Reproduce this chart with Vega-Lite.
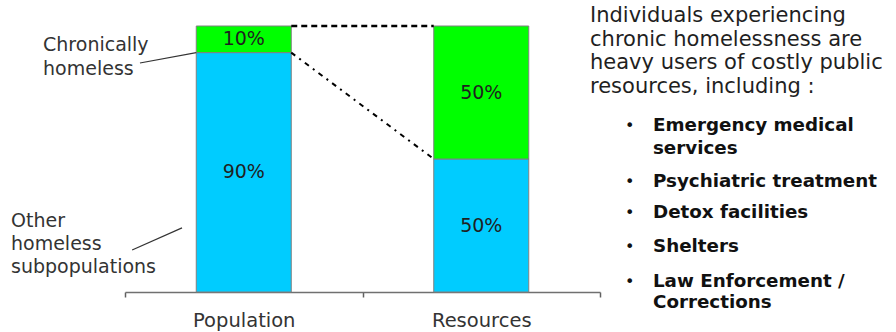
{
  "$schema": "https://vega.github.io/schema/vega-lite/v6.json",
  "width": 475,
  "height": 266,
  "autosize": {"type": "none"},
  "padding": {"left": 125, "top": 26, "right": 296, "bottom": 40},
  "config": {
    "view": {"stroke": null},
    "font": "DejaVu Sans",
    "text": {"font": "DejaVu Sans"}
  },
  "encoding": {
    "x": {
      "type": "nominal",
      "scale": {"domain": ["Population", "Resources"], "paddingInner": 0, "paddingOuter": 0},
      "axis": {
        "title": null,
        "grid": false,
        "ticks": true,
        "labelAngle": 0,
        "domainColor": "#707070",
        "domainWidth": 1.5,
        "tickColor": "#606060",
        "tickWidth": 1.5,
        "tickSize": 5,
        "tickBand": "extent",
        "labelFont": "DejaVu Sans",
        "labelFontSize": 19.5,
        "labelColor": "#333333",
        "labelPadding": 14
      }
    },
    "y": {
      "type": "quantitative",
      "scale": {"domain": [0, 1], "nice": false, "zero": true},
      "axis": null
    }
  },
  "layer": [
    {
      "data": {
        "values": [
          {"group": "Population", "segment": "Other homeless subpopulations", "share": 0.9},
          {"group": "Population", "segment": "Chronically homeless", "share": 0.1},
          {"group": "Resources", "segment": "Other homeless subpopulations", "share": 0.5},
          {"group": "Resources", "segment": "Chronically homeless", "share": 0.5}
        ]
      },
      "transform": [
        {"stack": "share", "groupby": ["group"], "sort": [{"field": "segment", "order": "descending"}], "as": ["lower", "upper"]},
        {"calculate": "(datum.lower + datum.upper) / 2", "as": "middle"}
      ],
      "layer": [
        {
          "mark": {"type": "bar", "width": {"band": 0.4}, "stroke": "#808080", "strokeWidth": 1},
          "encoding": {
            "x": {"field": "group", "type": "nominal"},
            "y": {"field": "lower", "type": "quantitative"},
            "y2": {"field": "upper"},
            "color": {
              "field": "segment",
              "type": "nominal",
              "scale": {"domain": ["Other homeless subpopulations", "Chronically homeless"], "range": ["#00CCFF", "#00FF00"]},
              "legend": null
            }
          }
        },
        {
          "mark": {"type": "text", "fontSize": 19, "color": "#1f1f1f", "baseline": "middle", "align": "center"},
          "encoding": {
            "x": {"field": "group", "type": "nominal"},
            "y": {"field": "middle", "type": "quantitative"},
            "text": {"field": "share", "type": "quantitative", "format": ".0%"}
          }
        }
      ]
    },
    {
      "data": {
        "values": [
          {"from": "Population", "to": "Resources", "fromLevel": 1, "toLevel": 1}
        ]
      },
      "mark": {"type": "rule", "color": "#000000", "strokeWidth": 2.5, "strokeDash": [6, 4]},
      "encoding": {
        "x": {"field": "from", "type": "nominal", "bandPosition": 0.7},
        "x2": {"field": "to", "bandPosition": 0.3},
        "y": {"field": "fromLevel", "type": "quantitative"},
        "y2": {"field": "toLevel"}
      }
    },
    {
      "data": {
        "values": [
          {"from": "Population", "to": "Resources", "fromLevel": 0.9, "toLevel": 0.5}
        ]
      },
      "mark": {"type": "rule", "color": "#000000", "strokeWidth": 2, "strokeDash": [5, 5, 2, 5]},
      "encoding": {
        "x": {"field": "from", "type": "nominal", "bandPosition": 0.7},
        "x2": {"field": "to", "bandPosition": 0.3},
        "y": {"field": "fromLevel", "type": "quantitative"},
        "y2": {"field": "toLevel"}
      }
    },
    {
      "data": {"values": [{}]},
      "layer": [
        {
          "mark": {"type": "rule", "color": "#333333", "strokeWidth": 1.2},
          "encoding": {
            "x": {"datum": "Population", "bandPosition": 0.063},
            "x2": {"datum": "Population", "bandPosition": 0.3},
            "y": {"datum": 0.861},
            "y2": {"datum": 0.9}
          }
        },
        {
          "mark": {"type": "rule", "color": "#333333", "strokeWidth": 1.2},
          "encoding": {
            "x": {"datum": "Population", "bandPosition": 0.03},
            "x2": {"datum": "Population", "bandPosition": 0.24},
            "y": {"datum": 0.158},
            "y2": {"datum": 0.241}
          }
        },
        {
          "mark": {"type": "text", "align": "left", "baseline": "alphabetic", "fontSize": 19, "lineHeight": 24, "color": "#333333"},
          "encoding": {
            "x": {"datum": "Population", "bandPosition": -0.345},
            "y": {"datum": 0.906},
            "text": {"value": ["Chronically", "homeless"]}
          }
        },
        {
          "mark": {"type": "text", "align": "left", "baseline": "alphabetic", "fontSize": 19, "lineHeight": 23.3, "color": "#333333"},
          "encoding": {
            "x": {"datum": "Population", "bandPosition": -0.48},
            "y": {"datum": 0.245},
            "text": {"value": ["Other", "homeless", "subpopulations"]}
          }
        },
        {
          "mark": {"type": "text", "align": "left", "baseline": "alphabetic", "fontSize": 21, "lineHeight": 23.5, "color": "#1f1f1f"},
          "encoding": {
            "x": {"datum": "Resources", "bandPosition": 0.958},
            "y": {"datum": 1.015},
            "text": {"value": ["Individuals experiencing", "chronic homelessness are", "heavy users of costly public", "resources, including :"]}
          }
        },
        {
          "encoding": {"y": {"datum": 0.606}},
          "layer": [
            {"mark": {"type": "text", "align": "left", "baseline": "alphabetic", "fontSize": 16, "color": "#111111"},
             "encoding": {"x": {"datum": "Resources", "bandPosition": 1.105}, "text": {"value": "•"}}},
            {"mark": {"type": "text", "align": "left", "baseline": "alphabetic", "fontSize": 18.3, "fontWeight": "bold", "lineHeight": 23, "color": "#111111"},
             "encoding": {"x": {"datum": "Resources", "bandPosition": 1.223}, "text": {"value": ["Emergency medical", "services"]}}}
          ]
        },
        {
          "encoding": {"y": {"datum": 0.395}},
          "layer": [
            {"mark": {"type": "text", "align": "left", "baseline": "alphabetic", "fontSize": 16, "color": "#111111"},
             "encoding": {"x": {"datum": "Resources", "bandPosition": 1.105}, "text": {"value": "•"}}},
            {"mark": {"type": "text", "align": "left", "baseline": "alphabetic", "fontSize": 18.3, "fontWeight": "bold", "color": "#111111"},
             "encoding": {"x": {"datum": "Resources", "bandPosition": 1.223}, "text": {"value": "Psychiatric treatment"}}}
          ]
        },
        {
          "encoding": {"y": {"datum": 0.278}},
          "layer": [
            {"mark": {"type": "text", "align": "left", "baseline": "alphabetic", "fontSize": 16, "color": "#111111"},
             "encoding": {"x": {"datum": "Resources", "bandPosition": 1.105}, "text": {"value": "•"}}},
            {"mark": {"type": "text", "align": "left", "baseline": "alphabetic", "fontSize": 18.3, "fontWeight": "bold", "color": "#111111"},
             "encoding": {"x": {"datum": "Resources", "bandPosition": 1.223}, "text": {"value": "Detox facilities"}}}
          ]
        },
        {
          "encoding": {"y": {"datum": 0.15}},
          "layer": [
            {"mark": {"type": "text", "align": "left", "baseline": "alphabetic", "fontSize": 16, "color": "#111111"},
             "encoding": {"x": {"datum": "Resources", "bandPosition": 1.105}, "text": {"value": "•"}}},
            {"mark": {"type": "text", "align": "left", "baseline": "alphabetic", "fontSize": 18.3, "fontWeight": "bold", "color": "#111111"},
             "encoding": {"x": {"datum": "Resources", "bandPosition": 1.223}, "text": {"value": "Shelters"}}}
          ]
        },
        {
          "encoding": {"y": {"datum": 0.019}},
          "layer": [
            {"mark": {"type": "text", "align": "left", "baseline": "alphabetic", "fontSize": 16, "color": "#111111"},
             "encoding": {"x": {"datum": "Resources", "bandPosition": 1.105}, "text": {"value": "•"}}},
            {"mark": {"type": "text", "align": "left", "baseline": "alphabetic", "fontSize": 18.3, "fontWeight": "bold", "lineHeight": 21, "color": "#111111"},
             "encoding": {"x": {"datum": "Resources", "bandPosition": 1.223}, "text": {"value": ["Law Enforcement /", "Corrections"]}}}
          ]
        }
      ]
    }
  ]
}
